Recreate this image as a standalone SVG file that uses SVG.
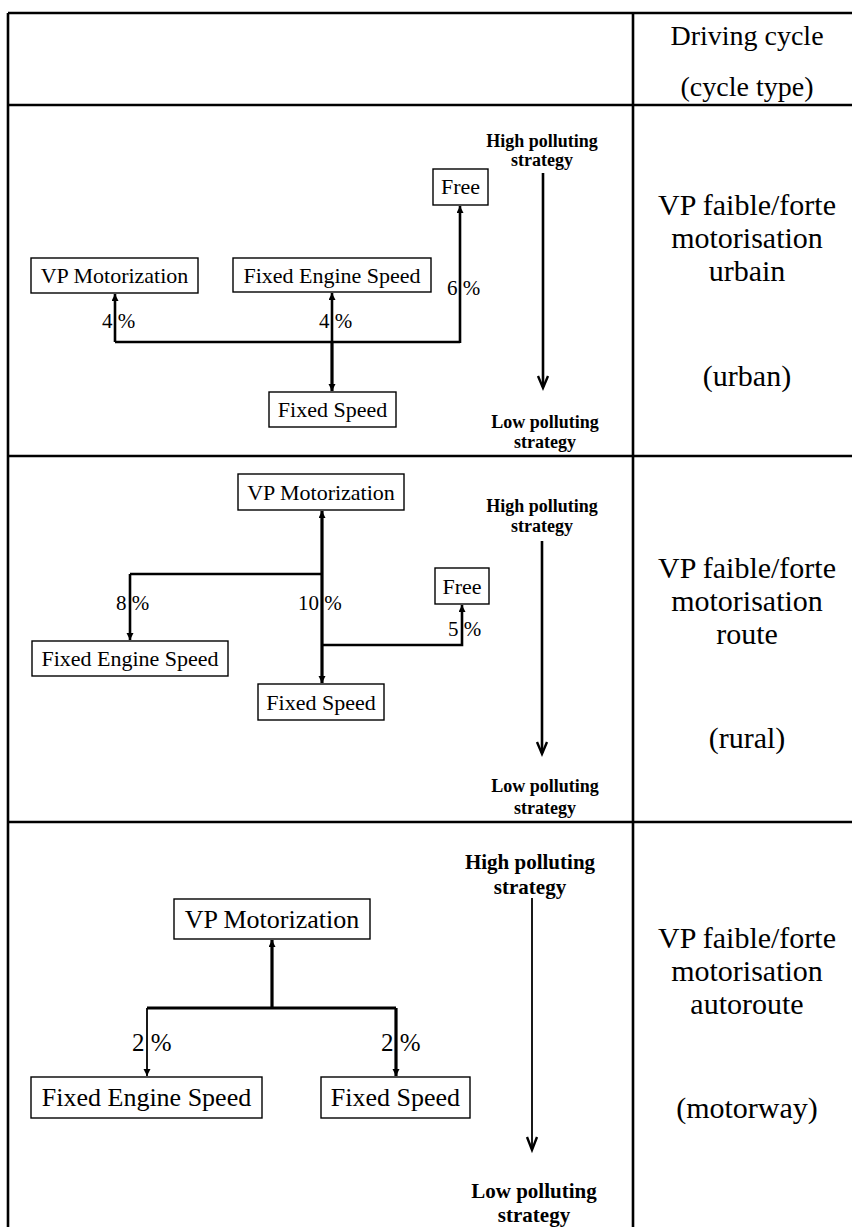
<svg xmlns="http://www.w3.org/2000/svg" width="852" height="1227" viewBox="0 0 852 1227">
<style>
text{font-family:"Liberation Serif","Times New Roman",serif;fill:#000}
.grid{stroke:#000;stroke-width:2.6;fill:none}
.box{fill:#fff;stroke:#000;stroke-width:1.4}
.t22{font-size:22px;text-anchor:middle}
.t26{font-size:26px;text-anchor:middle}
.lab{font-size:21px;white-space:pre}
.lab3{font-size:25px;white-space:pre}
.hdr{font-size:28px;text-anchor:middle}
.cyc{font-size:30px;text-anchor:middle}
.strat{font-size:18px;font-weight:bold;text-anchor:middle}
.strat3{font-size:21px;font-weight:bold;text-anchor:middle}
.c{stroke:#000;fill:none;stroke-width:2.6}
.ck{stroke:#000;fill:none;stroke-width:3.2}
.cn{stroke:#000;fill:none;stroke-width:1.8}
.head{stroke:#000;fill:none;stroke-width:2.4}
</style>
<defs>
<marker id="ah" markerUnits="userSpaceOnUse" markerWidth="8" markerHeight="8" refX="7" refY="3.5" orient="auto">
<path d="M0,0 L7,3.5 L0,7 z" fill="#000"/>
</marker>
</defs>
<rect x="0" y="0" width="852" height="1227" fill="#fff"/>
<g id="table">
<path class="grid" d="M8,13 H852 M8,13 V1227 M633,13 V1227 M8,105 H852 M8,456 H852 M8,822 H852"/>
</g>
<g id="header">
<text class="hdr" x="747" y="45">Driving cycle</text>
<text class="hdr" x="747" y="96">(cycle type)</text>
</g>
<g id="cycle-urban">
<text class="cyc" x="747" y="215">VP faible/forte</text>
<text class="cyc" x="747" y="248">motorisation</text>
<text class="cyc" x="747" y="281">urbain</text>
<text class="cyc" x="747" y="386">(urban)</text>
</g>
<g id="cycle-rural">
<text class="cyc" x="747" y="578">VP faible/forte</text>
<text class="cyc" x="747" y="611">motorisation</text>
<text class="cyc" x="747" y="644">route</text>
<text class="cyc" x="747" y="748">(rural)</text>
</g>
<g id="cycle-motorway">
<text class="cyc" x="747" y="948">VP faible/forte</text>
<text class="cyc" x="747" y="981">motorisation</text>
<text class="cyc" x="747" y="1014">autoroute</text>
<text class="cyc" x="747" y="1118">(motorway)</text>
</g>

<!-- Panel 1 nodes -->
<g id="p1-free"><rect class="box" x="433" y="169" width="55" height="36"/><text class="t22" x="460.5" y="194">Free</text></g>
<g id="p1-vp"><rect class="box" x="31" y="258" width="167" height="35"/><text class="t22" x="114.5" y="283">VP Motorization</text></g>
<g id="p1-fes"><rect class="box" x="233" y="258" width="198" height="34"/><text class="t22" x="332" y="283">Fixed Engine Speed</text></g>
<g id="p1-fs"><rect class="box" x="269" y="392" width="127" height="35"/><text class="t22" x="332.5" y="417">Fixed Speed</text></g>
<g id="p1-high"><text class="strat" x="542" y="147">High polluting</text><text class="strat" x="542" y="166">strategy</text></g>
<g id="p1-low"><text class="strat" x="545" y="428">Low polluting</text><text class="strat" x="545" y="448">strategy</text></g>

<!-- Panel 2 nodes -->
<g id="p2-vp"><rect class="box" x="238" y="474" width="166" height="36"/><text class="t22" x="321" y="500">VP Motorization</text></g>
<g id="p2-free"><rect class="box" x="435" y="568" width="54" height="36"/><text class="t22" x="462" y="594">Free</text></g>
<g id="p2-fes"><rect class="box" x="32" y="641" width="196" height="35"/><text class="t22" x="130" y="666">Fixed Engine Speed</text></g>
<g id="p2-fs"><rect class="box" x="258" y="684" width="126" height="36"/><text class="t22" x="321" y="710">Fixed Speed</text></g>
<g id="p2-high"><text class="strat" x="542" y="512">High polluting</text><text class="strat" x="542" y="532">strategy</text></g>
<g id="p2-low"><text class="strat" x="545" y="792">Low polluting</text><text class="strat" x="545" y="814">strategy</text></g>

<!-- Panel 3 nodes -->
<g id="p3-vp"><rect class="box" x="174" y="899" width="196" height="40"/><text class="t26" x="272" y="928">VP Motorization</text></g>
<g id="p3-fes"><rect class="box" x="31" y="1077" width="231" height="41"/><text class="t26" x="146.5" y="1106">Fixed Engine Speed</text></g>
<g id="p3-fs"><rect class="box" x="321" y="1077" width="149" height="41"/><text class="t26" x="395.5" y="1106">Fixed Speed</text></g>
<g id="p3-high"><text class="strat3" x="530" y="869">High polluting</text><text class="strat3" x="530" y="894">strategy</text></g>
<g id="p3-low"><text class="strat3" x="534" y="1198">Low polluting</text><text class="strat3" x="534" y="1222">strategy</text></g>

<g id="connectors">
<!-- panel 1 -->
<path class="c" d="M115,342 H460"/>
<path class="c" d="M115,342 V294" marker-end="url(#ah)"/>
<path class="c" d="M332,342 V293" marker-end="url(#ah)"/>
<path class="ck" d="M332,342 V391" marker-end="url(#ah)"/>
<path class="c" d="M460,343 V206" marker-end="url(#ah)"/>
<text class="lab" x="102" y="328">4 %</text>
<text class="lab" x="319" y="328">4 %</text>
<text class="lab" x="447" y="295">6 %</text>
<path class="c" d="M543,173 V387"/>
<polyline class="head" points="538,376 543,388 548,376"/>
<!-- panel 2 -->
<path class="ck" d="M322,574 V511" marker-end="url(#ah)"/>
<path class="ck" d="M322,574 V683" marker-end="url(#ah)"/>
<path class="c" d="M130,574 H322"/>
<path class="c" d="M130,574 V640" marker-end="url(#ah)"/>
<path class="c" d="M322,645 H462 V605" marker-end="url(#ah)"/>
<text class="lab" x="116" y="610">8 %</text>
<text class="lab" x="298" y="610">10 %</text>
<text class="lab" x="448" y="636">5 %</text>
<path class="c" d="M542,541 V753"/>
<polyline class="head" points="537,742 542,754 547,742"/>
<!-- panel 3 -->
<path class="ck" d="M272,1008 V940" marker-end="url(#ah)"/>
<path class="ck" d="M147,1008 H396"/>
<path class="cn" d="M147,1008 V1076" marker-end="url(#ah)"/>
<path class="ck" d="M396,1008 V1076" marker-end="url(#ah)"/>
<text class="lab3" x="132" y="1051">2 %</text>
<text class="lab3" x="381" y="1051">2 %</text>
<path class="cn" d="M532,898 V1149"/>
<polyline class="head" points="527,1137 532,1150 537,1137"/>
</g>
</svg>
